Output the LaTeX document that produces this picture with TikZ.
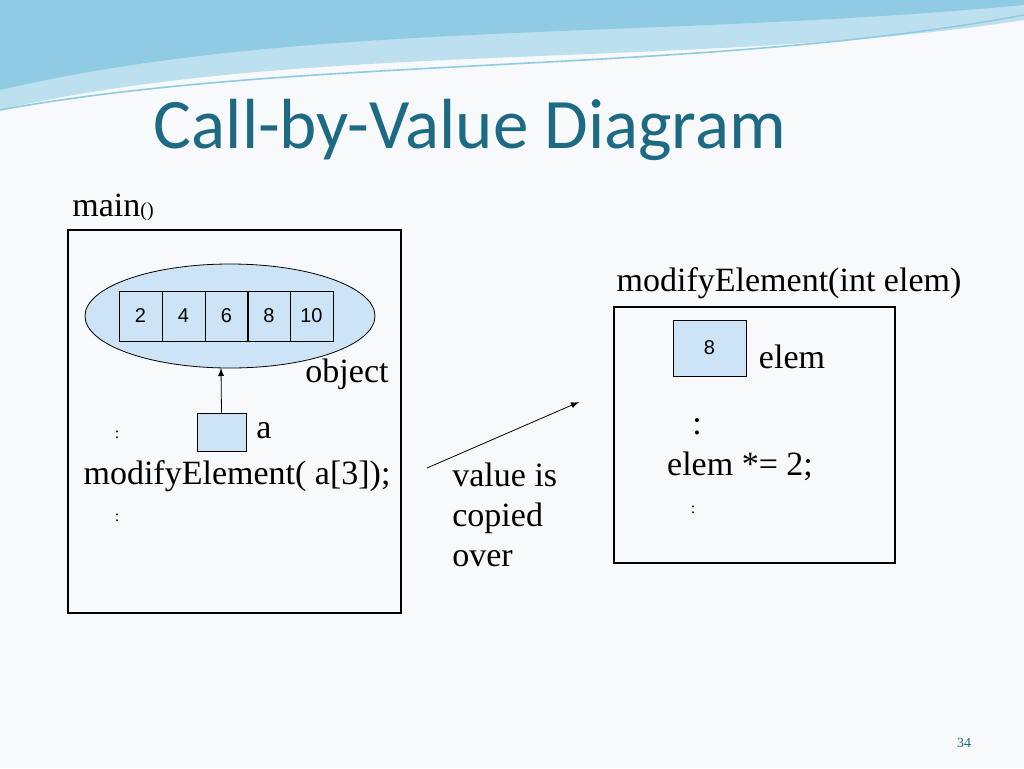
\documentclass[tikz,border=0pt]{standalone}
\usepackage{fontspec}
\setmainfont{Liberation Serif}
\newfontfamily\titlefont{Carlito}
\newfontfamily\cellfont{Liberation Sans}
\usetikzlibrary{shapes.geometric}
\definecolor{titleblue}{HTML}{1D6A85}
\definecolor{ovalblue}{HTML}{CCE4F6}
\definecolor{waveblue}{HTML}{8FCBE3}
\definecolor{paper}{HTML}{F7F9FA}
\tikzset{
  txt/.style={inner sep=0pt, font=\fontsize{17}{20}\selectfont},
  dots/.style={inner sep=0pt, font=\fontsize{8}{9}\selectfont},
  cell/.style={draw, minimum width=21.5pt, minimum height=25pt, inner sep=0pt, outer sep=0pt, font=\cellfont\fontsize{10}{11}\selectfont},
  frame/.style={draw, thick},
}
\begin{document}
\begin{tikzpicture}[x=0.5pt,y=-0.5pt]
	\useasboundingbox (0,0) rectangle (1024,768);
	\fill[paper] (0,0) rectangle (1024,768);
	% waves on top
	\fill[waveblue!60] (0,0) -- (1024,0) -- (1024,20) .. controls (700,70) and (300,40) .. (0,110) -- cycle;
	\fill[waveblue] (0,0) -- (1024,0) -- (1024,5) .. controls (650,40) and (300,20) .. (0,90) -- cycle;
	\draw[waveblue, thick] (1024,15) .. controls (700,75) and (300,55) .. (0,110);
	\node[inner sep=0pt, text=titleblue, font=\titlefont\fontsize{35.5}{40}\selectfont] (title) at (470,130) {Call-by-Value Diagram};

	% main()
	\node[txt, anchor=west] (mainlbl) at (72,207) {main{\fontsize{10}{11}\selectfont()}};
	\draw[frame] (68,230) rectangle (401,613);
	\node[ellipse, draw, fill=ovalblue, minimum width=145pt, minimum height=52pt] (object) at (230,316) {};
	\node[cell] (c1) at (140.5,316) {2};
	\node[cell] (c2) at (183.5,316) {4};
	\node[cell] (c3) at (226.5,316) {6};
	\node[cell] (c4) at (269,316) {8};
	\node[cell] (c5) at (311.5,316) {10};
	\node[txt] (objlbl) at (347,374) {object};
	\node[draw, fill=ovalblue, minimum width=24.5pt, minimum height=19pt, inner sep=0pt] (a) at (221.5,432) {};
	\node[txt] (albl) at (264,431) {a};
	\draw[-latex] (a.north) -- (221,368);
	\node[dots] (d1) at (117,435) {:};
	\node[txt] (call) at (237,476) {modifyElement( a[3]);};
	\node[dots] (d2) at (117,518) {:};

	% copy arrow
	\coordinate (from) at (427,468);
	\coordinate (to) at (579,402);
	\draw[-latex] (from) -- (to);
	\node[txt, anchor=north west, align=left, font=\fontsize{17}{20}\selectfont] (note) at (452,462) {value is\\copied\\over};

	% modifyElement
	\node[txt] (sig) at (789,283) {modifyElement(int elem)};
	\draw[frame] (614,307) rectangle (895,563);
	\node[draw, fill=ovalblue, minimum width=36.5pt, minimum height=28pt, inner sep=0pt, font=\cellfont\fontsize{10}{11}\selectfont] (elem) at (709.5,348) {8};
	\node[txt] (elemlbl) at (792,357) {elem};
	\node[txt] (d3) at (697,427) {:};
	\node[txt] (stmt) at (740,466) {elem *= 2;};
	\node[dots] (d4) at (693,510) {:};

	\node[inner sep=0pt, text=titleblue, font=\fontsize{7}{8}\selectfont] (page) at (964,743) {34};
\end{tikzpicture}
\end{document}
